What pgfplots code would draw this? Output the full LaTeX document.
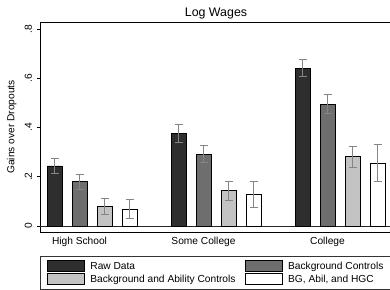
\documentclass[border=0pt]{standalone}
\usepackage{pgfplots}
\pgfplotsset{compat=1.18}
\usepackage{fontspec}
\setmainfont{Liberation Sans}
\definecolor{cRaw}{HTML}{2E2E2E}
\definecolor{cBG}{HTML}{6E6E6E}
\definecolor{cAB}{HTML}{C3C3C3}
\definecolor{cErr}{HTML}{858585}
\begin{document}
\begin{tikzpicture}
\useasboundingbox (0pt,0pt) rectangle (390pt,-289pt);
\clip (0pt,0pt) rectangle (390pt,-289pt);
\begin{axis}[
  at={(40pt,-232pt)}, anchor=south west,
  scale only axis, width=352pt, height=210pt,
  font=\fontsize{10.2}{12}\selectfont,
  /pgf/number format/assume math mode=true,
  xmin=-0.4194, xmax=2.4194,
  ymin=-0.0244, ymax=0.828,
  axis x line*=box, axis y line*=left,
  axis line style={line width=0.9pt, black},
  ybar=10pt, bar width=15pt,
  xtick={-0.1008,0.8992,1.8992},
  xticklabels={High School,Some College,College},
  x tick style={draw=none},
  x tick label style={yshift=1pt},
  ytick={0,0.2,0.4,0.6,0.8},
  yticklabels={0,.2,.4,.6,.8},
  tick align=outside, major tick length=3pt,
  y tick style={line width=0.6pt, black},
  y tick label style={rotate=90, anchor=south, yshift=1.5pt},
  ylabel={Gains over Dropouts},
  every axis y label/.style={at={(axis description cs:-0.08,0.5)}, anchor=center, rotate=90},
  title={Log Wages},
  every axis title/.style={at={(axis description cs:0.5,1)}, anchor=base, yshift=5pt, font=\fontsize{12.4}{14}\selectfont},
  extra y ticks={0}, extra y tick labels={},
  extra y tick style={grid=major, major grid style={black!85, line width=0.6pt}, tick style={draw=none}},
  legend columns=2,
  legend cell align=left,
  legend style={at={(axis description cs:0,-0.1143)}, anchor=north west,
    draw=black!80, line width=0.6pt, inner xsep=6.5pt, inner ysep=4pt,
    font=\fontsize{10.2}{12}\selectfont,
    nodes={inner ysep=1.5pt},
    /tikz/every even column/.append style={column sep=7pt},
    /tikz/every odd column/.append style={column sep=4pt},
    row sep=1pt},
  legend image code/.code={\draw[#1, draw=black, line width=0.6pt] (0pt,-5pt) rectangle (37pt,5.5pt);},
  error bars/y dir=both, error bars/y explicit,
  error bars/error bar style={color=cErr, line width=0.9pt},
  error bars/error mark options={rotate=90, mark size=4pt, color=cErr, line width=0.9pt},
]
\addplot[fill=cRaw, draw=black, line width=0.6pt] coordinates {(0,0.244) +- (0,0.030) (1,0.376) +- (0,0.036) (2,0.640) +- (0,0.034)};
\addplot[fill=cBG, draw=black, line width=0.6pt] coordinates {(0,0.180) +- (0,0.031) (1,0.292) +- (0,0.036) (2,0.495) +- (0,0.037)};
\addplot[fill=cAB, draw=black, line width=0.6pt] coordinates {(0,0.078) +- (0,0.033) (1,0.143) +- (0,0.039) (2,0.281) +- (0,0.043)};
\addplot[fill=white, draw=black, line width=0.6pt] coordinates {(0,0.069) +- (0,0.038) (1,0.129) +- (0,0.052) (2,0.255) +- (0,0.076)};
\legend{Raw Data,Background Controls,Background and Ability Controls,{BG, Abil, and HGC}}
\end{axis}
\end{tikzpicture}
\end{document}
